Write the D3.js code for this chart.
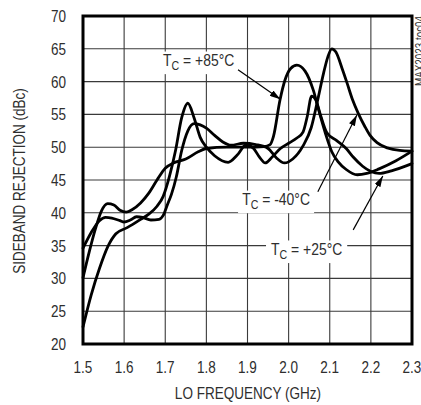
<!DOCTYPE html>
<html><head><meta charset="utf-8">
<script src="https://cdn.jsdelivr.net/npm/d3@7"></script>
<style>
html,body{margin:0;padding:0;background:#fff;}
svg{display:block;}
text{font-family:"Liberation Sans Narrow","Liberation Sans",Arial,sans-serif;fill:#2e2e2e;}
</style></head>
<body>
<svg id="chart" width="421" height="405"></svg>
<script>
// ---- data ----
const xTicks = [1.5,1.6,1.7,1.8,1.9,2.0,2.1,2.2,2.3];
const yTicks = [20,25,30,35,40,45,50,55,60,65,70];
const xTickLabels = ["1.5","1.6","1.7","1.8","1.9","2.0","2.1","2.2","2.3"];

const freq85 = [1.50,1.515,1.53,1.545,1.56,1.575,1.59,1.605,1.62,1.64,1.66,1.68,1.70,1.72,1.75,1.78,1.80,1.85,1.90,1.94,1.955,1.963,1.979,1.991,2.005,2.02,2.04,2.06,2.076,2.09,2.105,2.12,2.14,2.167,2.19,2.22,2.26,2.30];
const val85  = [30.1,34.0,37.5,40.3,41.4,41.2,40.4,40.1,40.5,41.5,43.0,45.0,46.8,47.6,48.2,49.3,49.8,50.0,50.0,50.1,50.4,51.6,57.2,60.2,62.0,62.5,61.6,58.7,55.0,52.0,49.3,47.8,46.6,45.8,46.0,46.7,47.9,49.4];

const freq40 = [1.50,1.52,1.54,1.555,1.57,1.59,1.60,1.615,1.63,1.645,1.665,1.685,1.695,1.705,1.715,1.727,1.74,1.755,1.77,1.785,1.80,1.82,1.84,1.86,1.89,1.92,1.95,1.97,1.99,2.01,2.035,2.055,2.07,2.085,2.095,2.105,2.115,2.13,2.142,2.155,2.169,2.185,2.198,2.215,2.24,2.27,2.30];
const val40  = [34.6,37.0,38.8,39.3,39.2,38.8,38.6,38.9,39.4,39.3,38.9,39.0,39.6,41.2,42.8,45.5,49.5,52.5,53.6,53.4,52.9,51.8,50.8,50.3,50.6,50.4,49.8,48.4,47.6,48.2,50.2,53.0,57.0,61.3,63.7,65.0,64.5,62.0,59.8,57.3,55.2,53.2,51.8,50.7,49.9,49.5,49.4];

const freq25 = [1.50,1.52,1.54,1.56,1.58,1.606,1.62,1.64,1.66,1.68,1.695,1.71,1.725,1.74,1.755,1.77,1.785,1.80,1.82,1.853,1.875,1.897,1.915,1.93,1.943,1.96,1.98,2.00,2.02,2.035,2.045,2.056,2.066,2.077,2.093,2.117,2.14,2.157,2.18,2.20,2.22,2.25,2.30];
const val25  = [22.6,27.5,31.5,34.8,36.8,37.7,38.2,39.0,39.8,41.0,42.5,45.5,49.5,54.5,56.7,54.5,51.5,50.0,48.7,47.7,48.8,50.4,49.8,48.4,47.6,48.5,49.8,50.6,51.4,52.3,54.6,57.8,57.2,55.0,52.2,51.0,49.8,48.5,47.1,46.3,46.0,46.4,47.5];

// annotation labels & arrows in data units
const labelNames  = ["+85°C","-40°C","+25°C"];
const labelFreq   = [1.6945,1.887,1.957];
const labelVal    = [62.4,41.2,33.6];
const arrowFromF  = [1.877,2.071,2.157];
const arrowFromV  = [61.8,43.2,37.4];
const arrowToF    = [1.980,2.166,2.229];
const arrowToV    = [57.3,54.9,45.6];

// ---- layout ----
const svg = d3.select("#chart");
const L = 83, R = 412, T = 16, B = 344;
const SX = 0.82; // horizontal condensing of text
const x = d3.scaleLinear().domain([1.5,2.3]).range([L,R]);
const y = d3.scaleLinear().domain([20,70]).range([B,T]);

function ntext(parent, px, py, size, anchor, str, rot){
  const gg = parent.append("g").attr("transform",`translate(${px},${py})${rot?` rotate(${rot})`:""} scale(${SX},1)`);
  const t = gg.append("text").attr("x",0).attr("y",0).attr("font-size",size).attr("text-anchor",anchor);
  if(str!==null) t.text(str);
  return {g:gg,t:t};
}

// grid
const g = svg.append("g");
g.selectAll(".vg").data(xTicks.slice(1,-1)).enter().append("line")
  .attr("x1",d=>x(d)).attr("x2",d=>x(d)).attr("y1",T).attr("y2",B)
  .attr("stroke","#3a3a3a").attr("stroke-width",1.1);
g.selectAll(".hg").data(yTicks.slice(1,-1)).enter().append("line")
  .attr("y1",d=>y(d)).attr("y2",d=>y(d)).attr("x1",L).attr("x2",R)
  .attr("stroke","#3a3a3a").attr("stroke-width",1.1);

// curves
const line = d3.line().x(d=>x(d[0])).y(d=>y(d[1])).curve(d3.curveMonotoneX);
const curveG = svg.append("g");

// labels with white boxes breaking the grid
const labG = svg.append("g");
const padX=[9,5,6];
labelNames.forEach((n,i)=>{
  const o = ntext(labG, x(labelFreq[i]), y(labelVal[i]), 17, "start", null);
  o.t.append("tspan").text("T");
  o.t.append("tspan").attr("font-size",13).attr("dy",4).text("C");
  o.t.append("tspan").attr("dy",-4).text(" = "+n);
  const bb = o.t.node().getBBox();
  o.g.insert("rect","text").attr("x",bb.x-padX[i]).attr("y",bb.y+1).attr("width",bb.width+2*padX[i]).attr("height",bb.height).attr("fill","#fff");
});

[[freq85,val85],[freq40,val40],[freq25,val25]].forEach(([f,v])=>{
  curveG.append("path").datum(f.map((d,i)=>[d,v[i]])).attr("d",line)
    .attr("fill","none").attr("stroke","#000").attr("stroke-width",2.8)
    .attr("stroke-linejoin","round").attr("stroke-linecap","round");
});

// frame
svg.append("rect").attr("x",L).attr("y",T).attr("width",R-L).attr("height",B-T)
  .attr("fill","none").attr("stroke","#000").attr("stroke-width",3);

// arrows
svg.append("defs").append("marker").attr("id","ah").attr("viewBox","0 0 10 6")
  .attr("refX",10).attr("refY",3).attr("markerWidth",11).attr("markerHeight",6.5)
  .attr("markerUnits","userSpaceOnUse").attr("orient","auto")
  .append("path").attr("d","M0,0 L10,3 L0,6 Z").attr("fill","#000");
arrowFromF.forEach((f,i)=>{
  svg.append("line").attr("x1",x(f)).attr("y1",y(arrowFromV[i]))
    .attr("x2",x(arrowToF[i])).attr("y2",y(arrowToV[i]))
    .attr("stroke","#000").attr("stroke-width",1.2).attr("marker-end","url(#ah)");
});

// axes tick labels
yTicks.forEach(d=>ntext(svg, 66, y(d)+6, 16.5, "end", String(d)));
xTicks.forEach((d,i)=>ntext(svg, x(d), 373, 16.5, "middle", xTickLabels[i]));

// axis titles
ntext(svg, 248, 399, 16.5, "middle", "LO FREQUENCY (GHz)");
ntext(svg, 25, 181, 16.5, "middle", "SIDEBAND REJECTION (dBc)", -90);

// side code
const sc = ntext(svg, 424, 86, 12, "start", "MAX2023 toc04", -90);
sc.t.attr("fill","#444");
</script>
</body></html>
